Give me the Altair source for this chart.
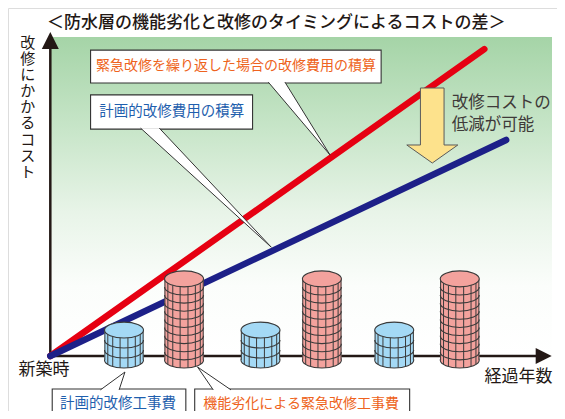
import altair as alt
import pandas as pd
import numpy as np

# ---------------- frame (years on x, cost on y) ----------------
W, H = 549, 403
X_DOMAIN = [-2.734, 36.76]
Y_DOMAIN = [-17.19, 108.75]
PX_X = W / (X_DOMAIN[1] - X_DOMAIN[0])
PX_Y = H / (Y_DOMAIN[1] - Y_DOMAIN[0])

FONT = "Noto Sans CJK JP"
INK = "#231815"
ORANGE = "#ee6320"
BLUE_TXT = "#1f5fae"
GRAY_TXT = "#3e3a39"

# ---------------- texts ----------------
TITLE = "＜防水層の機能劣化と改修のタイミングによるコストの差＞"
Y_LABEL = "改修にかかるコスト"
X_START = "新築時"
X_LABEL = "経過年数"
ARROW_TEXT = ["改修コストの", "低減が可能"]

# ---------------- cumulative cost lines ----------------
line_names = ["緊急改修を繰り返した場合の改修費用の積算", "計画的改修費用の積算"]
line_end_x = [31.8, 33.4]
line_end_y = [95.9, 67.5]
line_colors = ["#e60012", "#1d2088"]

# ---------------- construction cost stacks ----------------
cyl_x = [5.4, 9.8, 15.4, 19.9, 25.2, 30.0]
cyl_kind = ["計画的", "緊急", "計画的", "緊急", "計画的", "緊急"]
cyl_top = [8.1, 24.1, 8.1, 24.1, 8.1, 24.1]
cyl_rows = [3, 10, 3, 10, 3, 10]
CYL_BASE = -1.25
cyl_fill = {"計画的": "#a4d9f5", "緊急": "#f3a29d"}

# ---------------- callouts ----------------
box_text = ["緊急改修を繰り返した場合の改修費用の積算", "計画的改修費用の積算",
            "計画的改修工事費", "機能劣化による緊急改修工事費"]
box_color = [ORANGE, BLUE_TXT, BLUE_TXT, ORANGE]
box_x1 = [2.95, 2.95, 0.14, 10.58]
box_x2 = [24.24, 14.82, 9.93, 26.33]
box_y1 = [95.6, 81.6, -10.3, -10.3]
box_y2 = [85.3, 70.9, -30.0, -30.0]
box_tx = [13.6, 8.9, 4.96, 18.38]
box_ty = [90.5, 76.2, -15.0, -15.0]
box_fs = [14, 14.5, 14.5, 14]

tail_id = [0, 0, 0, 1, 1, 1, 2, 2, 2, 3, 3, 3]
tail_x = [15.97, 20.5, 17.19, 6.62, 16.19, 7.99, 3.67, 5.47, 5.04, 11.94, 10.79, 13.24]
tail_y = [85.6, 62.8, 85.6, 71.2, 34.0, 71.2, -10.6, -5.0, -10.6, -10.6, -3.44, -10.6]

# yellow "reduction" arrow outline
arrow_x = [27.12, 28.85, 28.85, 29.86, 27.99, 26.12, 27.12, 27.12]
arrow_y = [83.75, 83.75, 65.94, 65.94, 60.31, 65.94, 65.94, 83.75]

# ---------------- helpers ----------------
xs = alt.Scale(domain=X_DOMAIN, nice=False, zero=False)
ys = alt.Scale(domain=Y_DOMAIN, nice=False, zero=False)


def X(f):
    return alt.X(f, type="quantitative", scale=xs, axis=None)


def Y(f):
    return alt.Y(f, type="quantitative", scale=ys, axis=None)


layers = []

# background gradient
bg = pd.DataFrame({"x": [0.0], "x2": [X_DOMAIN[1]], "y": [0.0], "y2": [99.7]})
layers.append(alt.Chart(bg).mark_rect(
    fill=alt.Gradient(gradient="linear", x1=0, x2=0, y1=0, y2=1, stops=[
        alt.GradientStop(color="#a5d4a7", offset=0),
        alt.GradientStop(color="#c9e6ca", offset=0.3),
        alt.GradientStop(color="#e8f4e8", offset=0.55),
        alt.GradientStop(color="#fbfdfb", offset=0.78),
        alt.GradientStop(color="#ffffff", offset=1)])
).encode(x=X("x"), x2="x2", y=Y("y"), y2="y2"))

# axes
ax = pd.DataFrame({"x": [0.0, -0.1], "x2": [0.0, 35.6], "y": [-0.3, 0.0], "y2": [97.5, 0.0]})
layers.append(alt.Chart(ax).mark_rule(color=INK, strokeWidth=2.5).encode(
    x=X("x"), x2="x2", y=Y("y"), y2="y2"))
layers.append(alt.Chart(pd.DataFrame({"x": [0.0], "y": [98.6]})).mark_point(
    shape="M 0 -1 L 1 1 L -1 1 Z", size=289, filled=True, color=INK, opacity=1
).encode(x=X("x"), y=Y("y")))
layers.append(alt.Chart(pd.DataFrame({"x": [36.15], "y": [0.0]})).mark_point(
    shape="M 1 0 L -1 -1 L -1 1 Z", size=256, filled=True, color=INK, opacity=1
).encode(x=X("x"), y=Y("y")))

# cost lines (one layer per series, fixed colours)
for name, ex, ey, col in zip(line_names, line_end_x, line_end_y, line_colors):
    d = pd.DataFrame({"name": [name, name], "x": [0.0, ex], "y": [0.0, ey]})
    layers.append(alt.Chart(d).mark_line(strokeWidth=6.5, strokeCap="round", color=col).encode(
        x=X("x"), y=Y("y")))

# callouts (boxes, tails, text)
bx = pd.DataFrame({"x": box_x1, "x2": box_x2, "y": box_y1, "y2": box_y2,
                   "tx": box_tx, "ty": box_ty, "t": box_text, "c": box_color, "fs": box_fs})
tl = pd.DataFrame({"id": tail_id, "x": tail_x, "y": tail_y, "i": list(range(len(tail_x)))})


def callouts(ids):
    b = bx.iloc[ids]
    t = tl[tl["id"].isin(ids)]
    out = [alt.Chart(b).mark_rect(fill="white", stroke="#333333", strokeWidth=1.1).encode(
        x=X("x"), x2="x2", y=Y("y"), y2="y2"),
        alt.Chart(t).mark_line(fill="white", stroke="#333333", strokeWidth=1.0,
                               strokeJoin="miter").encode(
            x=X("x"), y=Y("y"), order="i:Q", detail="id:N")]
    for _, r in b.iterrows():
        out.append(alt.Chart(pd.DataFrame([r])).mark_text(
            font=FONT, fontSize=float(r["fs"]), color=r["c"], align="center", baseline="middle"
        ).encode(x=X("tx"), y=Y("ty"), text="t:N"))
    return out


layers += callouts([0, 1])

# cylinders
RX, RY = 19.5, 8.0
SIZE = (2 * RX) ** 2
ratio = RY / RX
FULL = f"M -1 0 A 1 {ratio:.3f} 0 1 0 1 0 A 1 {ratio:.3f} 0 1 0 -1 0 Z"
FRONT = f"M -1 0 A 1 {ratio:.3f} 0 0 0 1 0"
STRIPES = [-19.5, -16.5, -11.5, -4.0, 4.0, 11.5, 16.5, 19.5]
STROKE = "#3a3a3a"

cyl = pd.DataFrame({"x": cyl_x, "kind": cyl_kind, "top": cyl_top, "rows": cyl_rows})
cyl["base"] = CYL_BASE
fill_scale = alt.Scale(domain=list(cyl_fill.keys()), range=list(cyl_fill.values()))

rings = []
stripes = []
for _, r in cyl.iterrows():
    for k in range(1, int(r["rows"])):
        rings.append({"x": r["x"], "y": CYL_BASE + k * (r["top"] - CYL_BASE) / r["rows"]})
    for dx in STRIPES:
        drop = RY * np.sqrt(max(0.0, 1 - (dx / RX) ** 2)) / PX_Y
        stripes.append({"x": r["x"] + dx / PX_X, "y": r["top"], "y2": CYL_BASE - drop})
rings = pd.DataFrame(rings)
stripes = pd.DataFrame(stripes)

layers.append(alt.Chart(cyl).mark_point(shape=FULL, size=SIZE, filled=True, opacity=1,
                                        stroke=STROKE, strokeWidth=1.1).encode(
    x=X("x"), y=Y("base"), fill=alt.Fill("kind:N", scale=fill_scale, legend=None)))
layers.append(alt.Chart(cyl).mark_bar(size=2 * RX, opacity=1).encode(
    x=X("x"), y=Y("base"), y2="top", fill=alt.Fill("kind:N", scale=fill_scale, legend=None)))
layers.append(alt.Chart(rings).mark_point(shape=FRONT, size=SIZE, filled=False, opacity=1,
                                          color=STROKE, strokeWidth=1.1).encode(
    x=X("x"), y=Y("y")))
layers.append(alt.Chart(stripes).mark_rule(color=STROKE, strokeWidth=1.0).encode(
    x=X("x"), y=Y("y"), y2="y2"))
layers.append(alt.Chart(cyl).mark_point(shape=FULL, size=SIZE, filled=True, opacity=1,
                                        stroke=STROKE, strokeWidth=1.1).encode(
    x=X("x"), y=Y("top"), fill=alt.Fill("kind:N", scale=fill_scale, legend=None)))

# bottom callouts
layers += callouts([2, 3])

# yellow arrow
ar = pd.DataFrame({"x": arrow_x, "y": arrow_y, "i": list(range(len(arrow_x)))})
layers.append(alt.Chart(ar).mark_line(fill="#fde28c", stroke="#5a5a5a", strokeWidth=1.0,
                                      strokeJoin="miter").encode(x=X("x"), y=Y("y"), order="i:Q"))

# free texts
txt = pd.DataFrame({
    "t": [TITLE, X_START, X_LABEL, ARROW_TEXT[0], ARROW_TEXT[1]],
    "x": [16.55, -0.47, 34.3, 29.42, 29.42],
    "y": [104.0, -4.4, -6.56, 79.2, 72.3],
    "align": ["center", "center", "center", "left", "left"],
    "c": [INK, INK, INK, GRAY_TXT, GRAY_TXT],
    "fs": [17, 17, 17, 16.5, 16.5],
    "fw": [500, 400, 400, 400, 400],
})
for _, r in txt.iterrows():
    layers.append(alt.Chart(pd.DataFrame([r])).mark_text(
        font=FONT, fontSize=float(r["fs"]), fontWeight=int(r["fw"]), color=r["c"],
        align=r["align"], baseline="middle"
    ).encode(x=X("x"), y=Y("y"), text="t:N"))

# vertical y-axis label: one character per line
ylab = pd.DataFrame({"t": ["\n".join(Y_LABEL)], "x": [-1.65], "y": [100.0]})
layers.append(alt.Chart(ylab).mark_text(
    font=FONT, fontSize=15, color=INK, align="center", baseline="top", lineBreak="\n", lineHeight=16.1
).encode(x=X("x"), y=Y("y"), text="t:N"))

chart = alt.layer(*layers).properties(
    width=W, height=H, padding=0, autosize=alt.AutoSizeParams(type="none")
).configure_view(stroke=None).configure(background="white")

chart.save("out.html", embed_options={"renderer": "svg", "actions": False})
